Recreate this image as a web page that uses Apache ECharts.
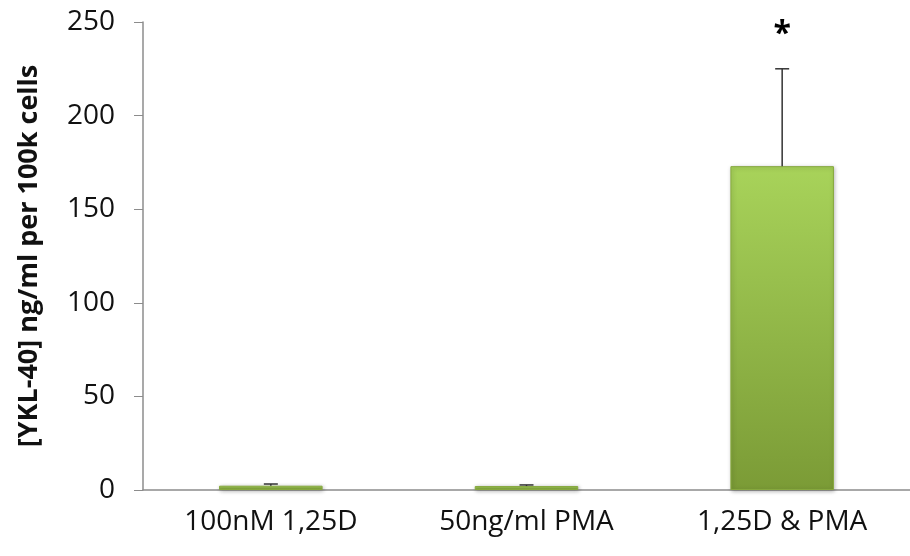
<!DOCTYPE html>
<html><head><meta charset="utf-8">
<script src="https://cdn.jsdelivr.net/npm/echarts@6/dist/echarts.min.js"></script>
<style>html,body{margin:0;padding:0;background:#fff}#c{width:910px;height:556px}</style>
</head><body><div id="c"></div>
<script>
const categories = ["100nM 1,25D", "50ng/ml PMA", "1,25D & PMA"];
const values = [2.3, 2.1, 173];
const errors = [0.9, 0.6, 52];
const marks = ["", "", "*"];
const yTicks = { min: 0, max: 250, interval: 50 };
const yName = "[YKL-40] ng/ml per 100k cells";

const chart = echarts.init(document.getElementById('c'));
const font = "Open Sans, Liberation Sans, sans-serif";
chart.setOption({
  animation: false,
  grid: { left: 143, top: 22, bottom: 66, width: 772 },
  xAxis: {
    type: 'category', data: categories,
    axisLine: { lineStyle: { color: '#8c8c8c', width: 1.5 } },
    axisTick: { show: false },
    axisLabel: { color: '#111', fontSize: 28, fontFamily: font, margin: 18 }
  },
  yAxis: {
    type: 'value', min: yTicks.min, max: yTicks.max, interval: yTicks.interval,
    name: yName, nameLocation: 'middle', nameGap: 100, nameRotate: 90,
    nameTextStyle: { color: '#111', fontSize: 27, fontWeight: 'bold', fontFamily: font },
    axisLine: { show: true, lineStyle: { color: '#8c8c8c', width: 1.5 } },
    axisTick: { show: true, length: 9, lineStyle: { color: '#8c8c8c' } },
    splitLine: { show: false },
    axisLabel: { color: '#111', fontSize: 28, fontFamily: font, margin: 28 }
  },
  series: [
    {
      type: 'bar', data: values, barWidth: '40.5%',
      itemStyle: {
        color: new echarts.graphic.LinearGradient(0, 0, 0, 1, [
          { offset: 0, color: '#a8d35a' },
          { offset: 1, color: '#7b9b36' }
        ]),
        borderColor: '#86a83e', borderWidth: 1,
        shadowBlur: 4, shadowColor: 'rgba(0,0,0,0.3)', shadowOffsetX: 1, shadowOffsetY: 1
      }
    },
    {
      type: 'custom',
      data: values.map((v, i) => [i, v, v + errors[i], marks[i]]),
      renderItem: function (params, api) {
        const base = api.coord([api.value(0), api.value(1)]);
        const top = api.coord([api.value(0), api.value(2)]);
        const hw = 7;
        const children = [
          { type: 'line', shape: { x1: base[0], y1: base[1], x2: top[0], y2: top[1] }, style: { stroke: '#333', lineWidth: 1.5 } },
          { type: 'line', shape: { x1: top[0] - hw, y1: top[1], x2: top[0] + hw, y2: top[1] }, style: { stroke: '#333', lineWidth: 1.5 } }
        ];
        const m = marks[params.dataIndex];
        if (m) {
          children.push({ type: 'text', style: { text: m, x: top[0], y: top[1] - 34, align: 'center', verticalAlign: 'middle', font: 'bold 32px ' + font, fill: '#000' } });
        }
        return { type: 'group', children: children };
      },
      z: 10
    }
  ]
});
</script></body></html>
